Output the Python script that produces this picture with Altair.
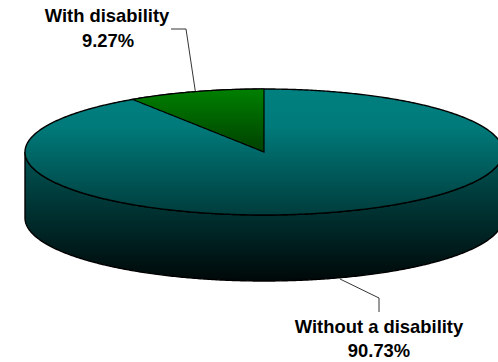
import math
import numpy as np
import pandas as pd
import altair as alt

# Pie slices, starting at twelve o'clock and running counter-clockwise
labels = ["With disability", "Without a disability"]
shares = [9.27, 90.73]

# Pie geometry on the page
W, H = 498, 362
CX, CY = 264, 152
RX, RY = 239, 63
DEPTH = 66 / RY  # height of the drum, in units of the vertical radius

x_scale = alt.Scale(domain=[-CX / RX, (W - CX) / RX], range=[0, W], nice=False, zero=False)
y_scale = alt.Scale(domain=[CY / RY, -(H - CY) / RY], range=[0, H], nice=False, zero=False)
X = alt.X("x:Q", scale=x_scale, axis=None)
Y = alt.Y("y:Q", scale=y_scale, axis=None)
Y2 = alt.Y2("y2:Q")


def gradient(stops):
    return alt.LinearGradient(
        gradient="linear", x1=0, x2=0, y1=0, y2=1,
        stops=[alt.GradientStop(offset=o, color=c) for o, c in stops],
    )


def area(frame, fill, line_width=1.4):
    return alt.Chart(frame).mark_area(
        fill=gradient(fill), stroke="#000000", strokeWidth=line_width, clip=True,
        interpolate="linear", orient="vertical",
    ).encode(x=X, y=Y, y2=Y2)


# Outline of the disc, sampled left to right
xs = np.sin(np.linspace(-math.pi / 2, math.pi / 2, 361))
half = np.sqrt(np.clip(1 - xs**2, 0, 1))

top_face = pd.DataFrame({"x": xs, "y": half, "y2": -half})
side_wall = pd.DataFrame({"x": xs, "y": -half, "y2": -half - DEPTH})

# The small slice: its edge runs from twelve o'clock back along the rim
slice_angle = 2 * math.pi * shares[0] / 100
edge_x = -math.sin(slice_angle)
edge_y = math.cos(slice_angle)
wx = np.sin(np.linspace(-slice_angle, 0, 61))
wedge = pd.DataFrame({
    "x": wx,
    "y": np.sqrt(np.clip(1 - wx**2, 0, 1)),
    "y2": wx / edge_x * edge_y,
})

# Leader lines start at the rim, at the middle of each slice
mid_small = slice_angle / 2
leader_small = pd.DataFrame({
    "x": [-math.sin(mid_small), -78 / RX, -93 / RX],
    "y": [math.cos(mid_small), 123 / RY, 123 / RY],
    "step": [0, 1, 2],
})
leader_large = pd.DataFrame({
    "x": [76 / RX, 115 / RX, 115 / RX],
    "y": [-127 / RY, -146 / RY, -160 / RY],
    "step": [0, 1, 2],
})


def leader(frame):
    return alt.Chart(frame).mark_line(color="#000000", strokeWidth=0.8, clip=True).encode(
        x=X, y=Y, order="step:Q"
    )


captions = pd.DataFrame({
    "text": [labels[0], f"{shares[0]:.2f}%", labels[1], f"{shares[1]:.2f}%"],
    "px": [107, 108, 379, 379],
    "py": [16, 41, 327, 351],
})
text = alt.Chart(captions).mark_text(
    font="Liberation Sans", fontSize=18.4, fontWeight="bold", color="#000000",
    align="center", baseline="middle",
).encode(
    x=alt.X("px:Q", scale=alt.Scale(domain=[0, W], range=[0, W]), axis=None),
    y=alt.Y("py:Q", scale=alt.Scale(domain=[0, H], range=[0, H]), axis=None),
    text="text:N",
)

pie = alt.layer(
    area(side_wall, [(0, "#005555"), (0.35, "#003a3a"), (1, "#000808")]),
    area(top_face, [(0, "#008080"), (0.3, "#007a7a"), (1, "#003c3c")]),
    area(wedge, [(0, "#008000"), (1, "#004000")], 1.2),
    leader(leader_small),
    leader(leader_large),
).resolve_scale(x="shared", y="shared")

chart = alt.layer(pie, text).resolve_scale(x="independent", y="independent").properties(
    width=W, height=H, padding=0, autosize=alt.AutoSizeParams(type="none"), background="#ffffff",
).configure_view(stroke=None)

chart.save("out.html", embed_options={"renderer": "svg", "actions": False})
